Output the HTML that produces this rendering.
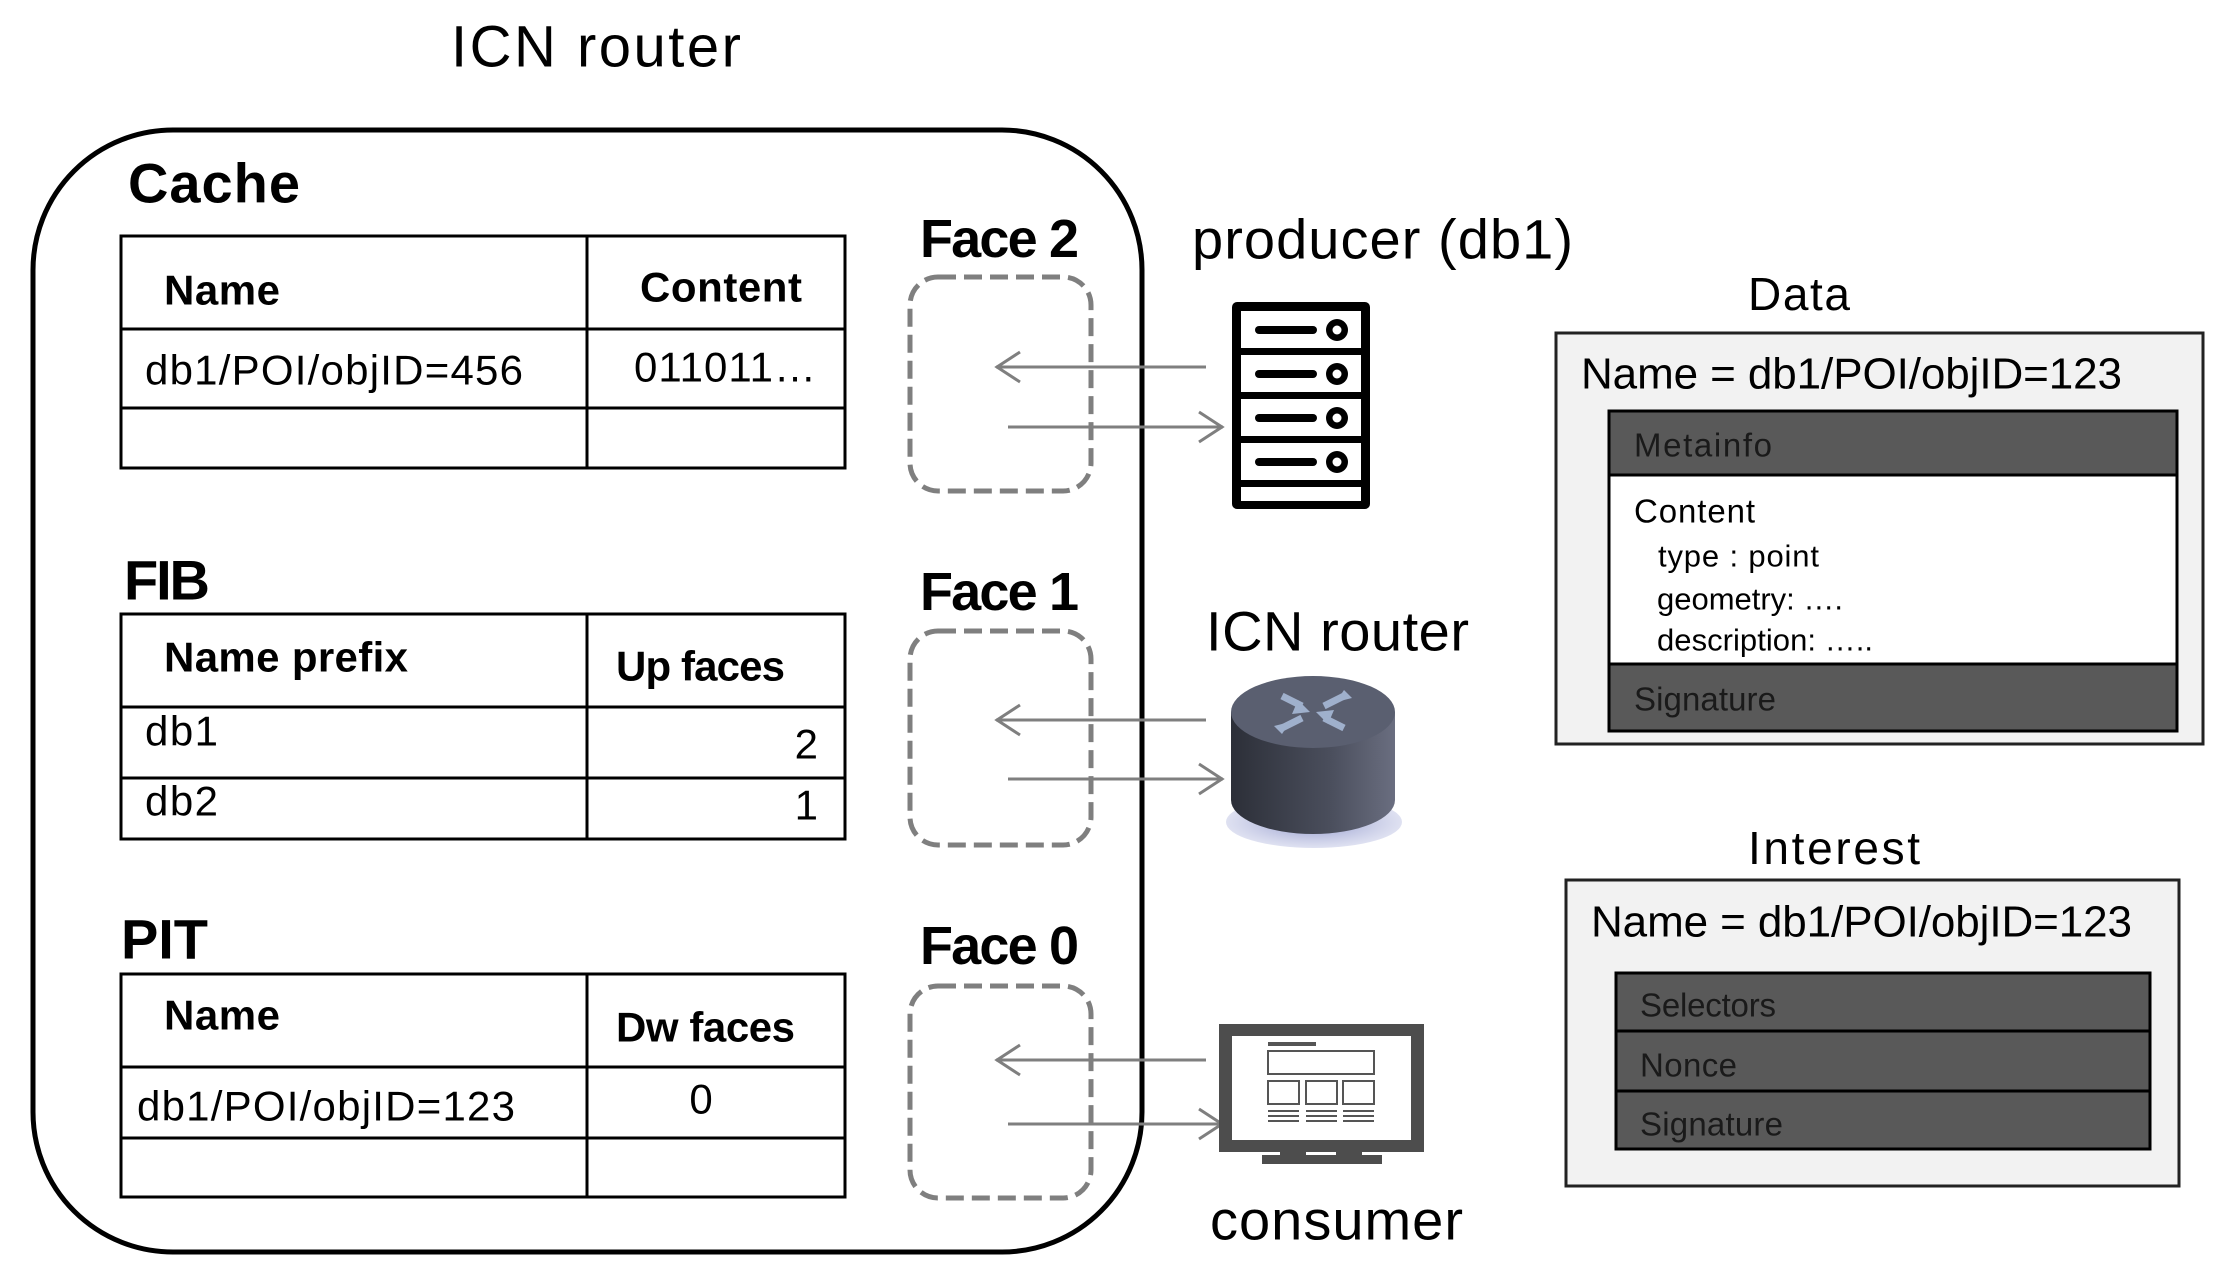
<!DOCTYPE html>
<html><head><meta charset="utf-8"><style>html,body{margin:0;padding:0;background:#fff}svg{display:block}</style></head>
<body>
<svg width="2230" height="1278" viewBox="0 0 2230 1278" xmlns="http://www.w3.org/2000/svg" font-family="Liberation Sans, sans-serif">
<defs>
<linearGradient id="cyl" x1="0" x2="1" y1="0" y2="0"><stop offset="0" stop-color="#2c2f38"/><stop offset="0.6" stop-color="#4a4e5c"/><stop offset="1" stop-color="#6a6e80"/></linearGradient>
<radialGradient id="sh" cx="0.5" cy="0.5" r="0.5"><stop offset="0" stop-color="#8c94c8"/><stop offset="1" stop-color="#c9cde8" stop-opacity="0.6"/></radialGradient>
</defs>
<g dominant-baseline="central" fill="#000">
<text x="451" y="47" font-size="58" textLength="290">ICN router</text>
<rect x="33" y="130" width="1109" height="1122" rx="140" fill="none" stroke="#000" stroke-width="5"/>
<text x="128" y="183" font-size="56" font-weight="bold" textLength="172">Cache</text>
<g fill="none" stroke="#000" stroke-width="3">
<rect x="121" y="236" width="724" height="232"/><line x1="587" y1="236" x2="587" y2="468"/><line x1="121" y1="329" x2="845" y2="329"/><line x1="121" y1="408" x2="845" y2="408"/>
<rect x="121" y="614" width="724" height="225"/><line x1="587" y1="614" x2="587" y2="839"/><line x1="121" y1="707" x2="845" y2="707"/><line x1="121" y1="778" x2="845" y2="778"/>
<rect x="121" y="974" width="724" height="223"/><line x1="587" y1="974" x2="587" y2="1197"/><line x1="121" y1="1067" x2="845" y2="1067"/><line x1="121" y1="1138" x2="845" y2="1138"/>
</g>
<text x="164" y="290" font-size="42" font-weight="bold" textLength="116">Name</text>
<text x="640" y="287" font-size="42" font-weight="bold" textLength="162">Content</text>
<text x="145" y="370" font-size="42" textLength="378">db1/POI/objID=456</text>
<text x="634" y="367" font-size="42" textLength="182">011011…</text>
<text x="124" y="580" font-size="56" font-weight="bold" textLength="86">FIB</text>
<text x="164" y="657" font-size="42" font-weight="bold" textLength="244">Name prefix</text>
<text x="616" y="666" font-size="42" font-weight="bold" textLength="169">Up faces</text>
<text x="145" y="731" font-size="42" textLength="73">db1</text>
<text x="818" y="744" font-size="42" text-anchor="end">2</text>
<text x="145" y="801" font-size="42" textLength="73">db2</text>
<text x="818" y="805" font-size="42" text-anchor="end">1</text>
<text x="121" y="939" font-size="56" font-weight="bold" textLength="87">PIT</text>
<text x="164" y="1015" font-size="42" font-weight="bold" textLength="116">Name</text>
<text x="616" y="1027" font-size="42" font-weight="bold" textLength="179">Dw faces</text>
<text x="137" y="1106" font-size="42" textLength="378">db1/POI/objID=123</text>
<text x="701" y="1099" font-size="42" text-anchor="middle">0</text>
<g fill="none" stroke="#7f7f7f" stroke-width="5" stroke-dasharray="18,8">
<rect x="910" y="277" width="181" height="214" rx="28"/>
<rect x="910" y="631" width="181" height="214" rx="28"/>
<rect x="910" y="986" width="181" height="212" rx="28"/>
</g>
<text x="920" y="239" font-size="54" font-weight="bold" textLength="159">Face 2</text>
<text x="920" y="592" font-size="54" font-weight="bold" textLength="159">Face 1</text>
<text x="920" y="946" font-size="54" font-weight="bold" textLength="159">Face 0</text>
<g fill="none" stroke="#7f7f7f" stroke-width="3">
<path d="M1206 367H996M1020 352L997 367L1020 382"/><path d="M1008 427H1223M1199 412L1222 427L1199 442"/>
<path d="M1206 720H996M1020 705L997 720L1020 735"/><path d="M1008 779H1223M1199 764L1222 779L1199 794"/>
<path d="M1206 1060H996M1020 1045L997 1060L1020 1075"/><path d="M1008 1124H1223M1199 1109L1222 1124L1199 1139"/>
</g>
<text x="1192" y="239" font-size="56" textLength="381">producer (db1)</text>
<g>
<rect x="1232" y="302" width="138" height="207" rx="5" fill="#000"/>
<rect x="1241" y="311" width="120" height="37" fill="#fff"/><rect x="1241" y="355" width="120" height="37" fill="#fff"/><rect x="1241" y="399" width="120" height="37" fill="#fff"/><rect x="1241" y="443" width="120" height="37" fill="#fff"/><rect x="1241" y="487" width="120" height="14" fill="#fff"/>
<g fill="#000"><rect x="1255" y="326" width="62" height="8" rx="4"/><rect x="1255" y="370" width="62" height="8" rx="4"/><rect x="1255" y="414" width="62" height="8" rx="4"/><rect x="1255" y="458" width="62" height="8" rx="4"/>
<circle cx="1337" cy="330" r="11"/><circle cx="1337" cy="374" r="11"/><circle cx="1337" cy="418" r="11"/><circle cx="1337" cy="462" r="11"/></g>
<g fill="#fff"><circle cx="1337" cy="330" r="4.5"/><circle cx="1337" cy="374" r="4.5"/><circle cx="1337" cy="418" r="4.5"/><circle cx="1337" cy="462" r="4.5"/></g>
</g>
<text x="1206" y="631" font-size="56" textLength="263">ICN router</text>
<g>
<ellipse cx="1314" cy="822" rx="88" ry="26" fill="url(#sh)"/>
<path d="M1231 712V800A82 34 0 0 0 1395 800V712Z" fill="url(#cyl)"/>
<ellipse cx="1313" cy="712" rx="82" ry="36" fill="#5a5f70"/>
<g stroke="#9fb0cc" stroke-width="7" fill="none"><path d="M1282 696L1302 706M1344 728L1324 718M1344 696L1324 706M1282 728L1302 718"/></g>
<g fill="#9fb0cc"><path d="M1298 700L1310 712L1292 714Z"/><path d="M1328 724L1316 712L1334 710Z"/><path d="M1344 690L1352 698L1336 702Z"/><path d="M1282 734L1274 726L1290 722Z"/></g>
</g>
<text x="1210" y="1220" font-size="56" textLength="253">consumer</text>
<g>
<rect x="1219" y="1024" width="205" height="128" fill="#4d4d4d"/>
<rect x="1232" y="1036" width="179" height="104" fill="#fff"/>
<rect x="1280" y="1143" width="26" height="12" fill="#4d4d4d"/><rect x="1336" y="1143" width="26" height="12" fill="#4d4d4d"/>
<rect x="1262" y="1155" width="120" height="9" fill="#4d4d4d"/>
<g fill="none" stroke="#555" stroke-width="2"><rect x="1268" y="1051" width="106" height="23"/><rect x="1268" y="1081" width="31" height="23"/><rect x="1306" y="1081" width="31" height="23"/><rect x="1343" y="1081" width="31" height="23"/>
<path d="M1268 1111h31M1268 1116h31M1268 1121h31M1306 1111h31M1306 1116h31M1306 1121h31M1343 1111h31M1343 1116h31M1343 1121h31"/></g>
<rect x="1268" y="1042" width="48" height="4" fill="#555"/>
</g>
<text x="1748" y="294" font-size="46" textLength="102">Data</text>
<rect x="1556" y="333" width="647" height="411" fill="#f2f2f2" stroke="#222" stroke-width="3"/>
<text x="1581" y="374" font-size="44" textLength="541">Name = db1/POI/objID=123</text>
<rect x="1609" y="411" width="568" height="320" fill="#fff" stroke="#000" stroke-width="3"/>
<rect x="1609" y="411" width="568" height="64" fill="#595959" stroke="#000" stroke-width="3"/>
<rect x="1609" y="664" width="568" height="67" fill="#595959" stroke="#000" stroke-width="3"/>
<text x="1634" y="445" font-size="33" fill="#1a1a1a" textLength="138">Metainfo</text>
<text x="1634" y="511" font-size="33" textLength="121">Content</text>
<text x="1658" y="556" font-size="31" textLength="161">type : point</text>
<text x="1657" y="599" font-size="31" textLength="186">geometry: ….</text>
<text x="1657" y="640" font-size="31" textLength="216">description: …..</text>
<text x="1634" y="699" font-size="33" fill="#1a1a1a" textLength="142">Signature</text>
<text x="1748" y="848" font-size="46" textLength="172">Interest</text>
<rect x="1566" y="880" width="613" height="306" fill="#f2f2f2" stroke="#222" stroke-width="3"/>
<text x="1591" y="922" font-size="44" textLength="541">Name = db1/POI/objID=123</text>
<rect x="1616" y="973" width="534" height="58" fill="#595959" stroke="#000" stroke-width="3"/>
<rect x="1616" y="1031" width="534" height="60" fill="#595959" stroke="#000" stroke-width="3"/>
<rect x="1616" y="1091" width="534" height="58" fill="#595959" stroke="#000" stroke-width="3"/>
<text x="1640" y="1005" font-size="33" fill="#1a1a1a" textLength="136">Selectors</text>
<text x="1640" y="1065" font-size="33" fill="#1a1a1a" textLength="97">Nonce</text>
<text x="1640" y="1124" font-size="33" fill="#1a1a1a" textLength="143">Signature</text>
</g>
</svg>
</body></html>
